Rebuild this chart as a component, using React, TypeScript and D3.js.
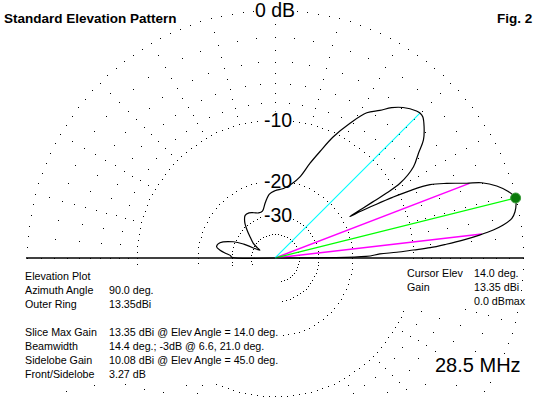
import * as d3 from "d3";
import React from "react";

// elevation pattern: elevation angle (deg) and dB rel. max
const elevAngles = [0, 1, 2.2, 2.7, 3.3, 3.8, 4.6, 5.5, 6.4, 7.3, 8.2, 9.5, 10.9, 12.8, 14, 15.9, 18, 20, 21.3, 23.5, 25.3, 26.5, 27.3, 28, 28.6, 29, 29.5, 29.9, 30.2, 30.9, 33.4, 36.2, 38.5, 41.4, 43.7, 45, 46.1, 49.6, 52.2, 54.6, 57.7, 60.9, 64.3, 67.1, 69.7, 72.9, 77, 83, 90, 95, 100, 105, 110, 115, 120, 125, 130, 135, 140, 146, 150, 153, 156, 158.7, 164.5, 169, 172, 175, 177, 179, 180];
const elevDb = [-Infinity, -17.2, -14.75, -12.2, -10, -8, -6.3, -4.6, -3.2, -2.05, -1.25, -0.55, -0.25, -0.05, 0, -0.38, -1.06, -2.06, -3.2, -4.83, -6.33, -8.5, -10.8, -13.5, -16, -18.3, -15.5, -13.2, -11.2, -9.1, -6.9, -5.7, -4.6, -3.8, -3.32, -3.27, -3.35, -3.9, -4.55, -5.4, -6.3, -8.15, -10.5, -13.1, -15.4, -18.4, -20.2, -21.7, -22.4, -23.2, -25.5, -28, -28.2, -27.5, -26.8, -26.8, -28.5, -31.5, -35, -38.6, -43, -46, -34, -29.4, -25.2, -24.5, -25.7, -28, -29.5, -30, -Infinity];

// grid
const sparseRings = [0, -2, -4, -6, -8];
const sparseStep = [2.5, 5, 5, 5, 5];
const denseRings = [-10, -20, -30, -40];
const denseStep = [2.5, 4, 5, 7.5];
const spokeDb = [-1, -3, -5, -7, -9];
const ringLabels = ["0 dB", "-10", "-20", "-30"];
const ringLabelDb = [0, -10, -20, -30];

// markers
const maxAngle = 14.0;
const halfPowerAngles = [6.6, 21.0];
const halfPowerDb = -3.0;
const sideAngle = 45.0;
const sideDb = -3.27;

const leftLabels = ["Elevation Plot", "Azimuth Angle", "Outer Ring", "", "Slice Max Gain", "Beamwidth", "Sidelobe Gain", "Front/Sidelobe"];
const leftValues = ["", "90.0 deg.", "13.35dBi", "", "13.35 dBi @ Elev Angle = 14.0 deg.", "14.4 deg.; -3dB @ 6.6, 21.0 deg.", "10.08 dBi @ Elev Angle = 45.0 deg.", "3.27 dB"];
const rightLabels = ["Cursor Elev", "Gain", ""];
const rightValues = ["14.0 deg.", "13.35 dBi", "0.0 dBmax"];

const W = 548;
const H = 397;
const cx = 275;
const cy = 258;
const R = 248;
const font = "'Liberation Sans', Arial, sans-serif";

// ARRL log scale: each 2 dB = 0.89 of radius
const rScale = (db: number) => (db === -Infinity ? 0 : R * Math.pow(0.89, -db / 2));
const rad = (deg: number) => (deg * Math.PI) / 180;
const px = (deg: number, db: number) => cx + rScale(db) * Math.cos(rad(deg));
const py = (deg: number, db: number) => cy - rScale(db) * Math.sin(rad(deg));

export default function App() {
  const dots: Array<[number, number]> = [];
  sparseRings.forEach((db, i) => {
    d3.range(0, 360, sparseStep[i]).forEach((a) => dots.push([px(a, db), py(a, db)]));
  });
  denseRings.forEach((db, i) => {
    d3.range(0, 360, denseStep[i]).forEach((a) => dots.push([px(a, db), py(a, db)]));
  });
  d3.range(0, 360, 15).forEach((a) => {
    spokeDb.forEach((db) => dots.push([px(a, db), py(a, db)]));
  });

  const pattern = elevAngles.map((a, i) => ({ a, db: elevDb[i] }));
  const line = d3
    .lineRadial<{ a: number; db: number }>()
    .angle((d) => Math.PI / 2 - rad(d.a))
    .radius((d) => rScale(d.db))
    .curve(d3.curveCatmullRom.alpha(0.5));

  const lineY0 = 276;
  const lineStep = 14;

  return (
    <svg width={W} height={H} style={{ position: "absolute", left: 0, top: 0, background: "#fff" }} fontFamily={font}>
      <rect width={W} height={H} fill="#fff" />
      {dots.map(([x, y], i) => (
        <rect key={i} x={Math.round(x)} y={Math.round(y)} width={1} height={1} fill="#000" />
      ))}

      {/* text blocks cover the grid */}
      <rect x={24} y={266} width={257} height={118} fill="#fff" />
      <rect x={403} y={263} width={117} height={44} fill="#fff" />
      <rect x={433} y={355} width={88} height={21} fill="#fff" />

      {ringLabels.map((t, i) => (
        <g key={t}>
          <rect x={cx - (i === 0 ? 20 : 14)} y={cy - rScale(ringLabelDb[i]) - 8} width={i === 0 ? 40 : 28} height={16} fill="#fff" />
          <text x={cx + (i === 0 ? 0 : 3)} y={cy - rScale(ringLabelDb[i]) + 7} textAnchor="middle" fontSize={19.5}>
            {t}
          </text>
        </g>
      ))}

      <line x1={26} x2={524} y1={cy} y2={cy} stroke="#000" strokeWidth={1.4} />

      {halfPowerAngles.map((a) => (
        <line key={a} x1={cx} y1={cy} x2={px(a, halfPowerDb)} y2={py(a, halfPowerDb)} stroke="#ff00ff" strokeWidth={1.5} />
      ))}
      <line x1={cx} y1={cy} x2={px(maxAngle, 0)} y2={py(maxAngle, 0)} stroke="#00ff00" strokeWidth={1.3} />
      <line x1={cx} y1={cy} x2={px(sideAngle, sideDb)} y2={py(sideAngle, sideDb)} stroke="#00ffff" strokeWidth={1.1} />

      <path d={line(pattern) ?? ""} transform={`translate(${cx},${cy})`} fill="none" stroke="#000" strokeWidth={1.2} />

      <circle cx={px(maxAngle, 0)} cy={py(maxAngle, 0)} r={5} fill="#0a7a0a" stroke="#3f9f3f" strokeWidth={1} />

      <text x={4} y={23} fontSize={13.5} fontWeight="bold">Standard Elevation Pattern</text>
      <text x={497} y={23} fontSize={13.5} fontWeight="bold">Fig. 2</text>

      {leftLabels.map((t, i) => (
        <g key={i} fontSize={10.7}>
          <text x={25} y={lineY0 + i * lineStep + 4}>{t}</text>
          <text x={109} y={lineY0 + i * lineStep + 4}>{leftValues[i]}</text>
        </g>
      ))}
      {rightLabels.map((t, i) => (
        <g key={i} fontSize={10.7}>
          <text x={407} y={273 + i * lineStep + 4}>{t}</text>
          <text x={474} y={273 + i * lineStep + 4}>{rightValues[i]}</text>
        </g>
      ))}

      <text x={435} y={372} fontSize={20}>28.5 MHz</text>
    </svg>
  );
}
